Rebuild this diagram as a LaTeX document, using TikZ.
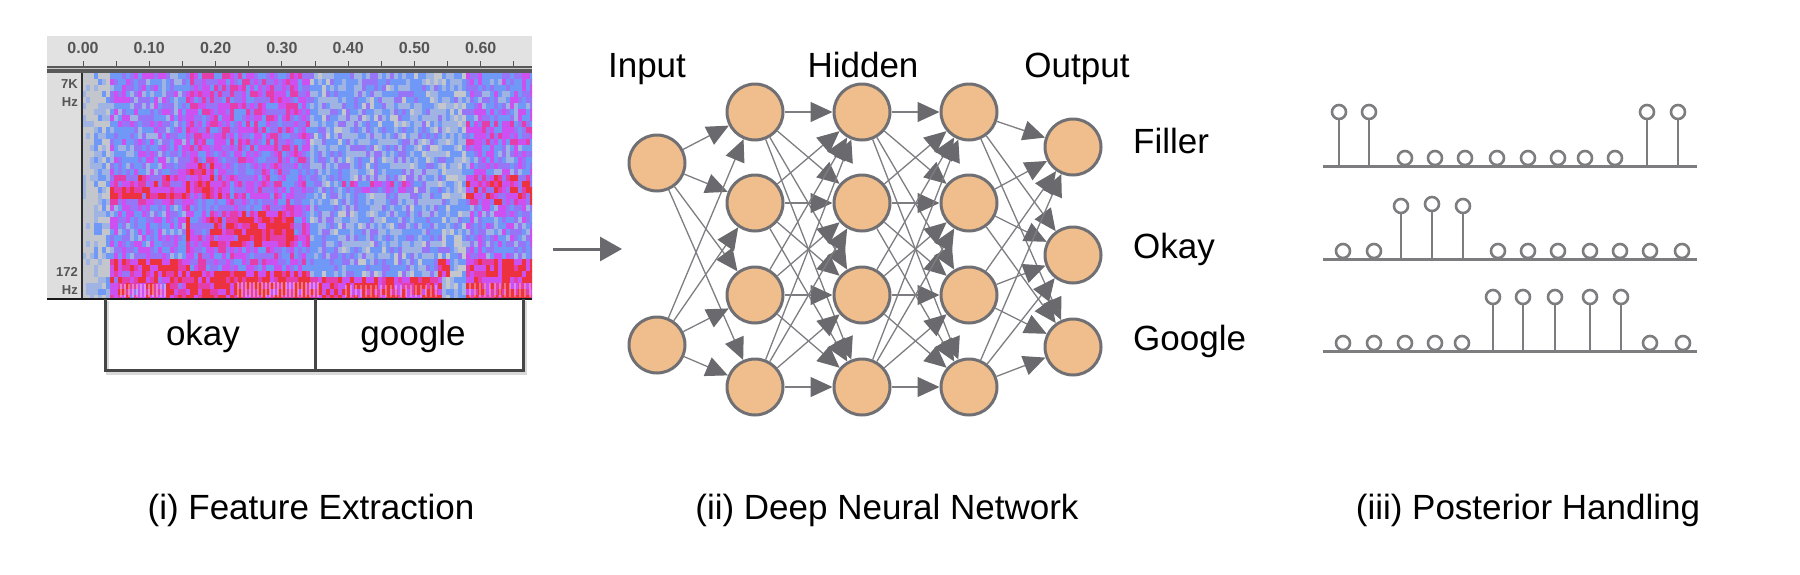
\documentclass[tikz,border=0pt]{standalone}
\usepackage{fontspec}
\setmainfont{Liberation Sans}
\usetikzlibrary{arrows.meta}
\pgfdeclarelayer{bg}
\pgfsetlayers{bg,main}
\definecolor{nodefill}{RGB}{240,190,140}
\definecolor{nodeline}{RGB}{112,112,116}
\definecolor{edgecol}{RGB}{125,125,130}
\definecolor{headcol}{RGB}{105,105,110}
\definecolor{lolli}{RGB}{125,125,128}
\definecolor{rulerbg}{RGB}{226,226,226}
\definecolor{rulertxt}{RGB}{85,85,85}
\definecolor{axisbg}{RGB}{222,222,222}
\definecolor{boxline}{RGB}{70,70,70}
\definecolor{s0}{RGB}{196,198,206}
\definecolor{s1}{RGB}{160,180,228}
\definecolor{s2}{RGB}{112,152,246}
\definecolor{s3}{RGB}{150,118,246}
\definecolor{s4}{RGB}{205,80,240}
\definecolor{s5}{RGB}{228,62,170}
\definecolor{s6}{RGB}{236,50,62}
\newcount\px \newcount\py \newcount\sb \newcount\sv
\def\specrect#1#2#3#4#5{\ifnum\px<#1 \else\ifnum\px<#2 \ifnum\py<#3 \else\ifnum\py<#4 \sb=#5 \fi\fi\fi\fi}
\def\specregions{%
  \sb=30
  \specrect{82}{93}{0}{999}{0}%
  \specrect{93}{110}{0}{999}{16}%
  \specrect{110}{183}{0}{999}{42}%
  \specrect{110}{183}{170}{203}{64}%
  \specrect{110}{140}{185}{198}{82}%
  \specrect{110}{183}{257}{270}{78}%
  \specrect{110}{183}{270}{299}{72}%
  \specrect{183}{307}{0}{999}{52}%
  \specrect{183}{307}{73}{160}{56}%
  \specrect{183}{213}{163}{190}{74}%
  \specrect{203}{230}{177}{197}{76}%
  \specrect{210}{293}{210}{243}{70}%
  \specrect{237}{287}{213}{240}{84}%
  \specrect{183}{307}{270}{299}{82}%
  \specrect{183}{187}{160}{299}{74}%
  \specrect{307}{440}{0}{999}{30}%
  \specrect{340}{410}{177}{193}{54}%
  \specrect{307}{440}{277}{299}{76}%
  \specrect{440}{463}{0}{999}{22}%
  \specrect{437}{447}{255}{275}{76}%
  \specrect{463}{533}{0}{999}{42}%
  \specrect{463}{533}{120}{140}{55}%
  \specrect{463}{533}{170}{203}{66}%
  \specrect{463}{533}{257}{299}{80}%
}
\def\speccolor{%
  \ifnum\sv<12 \def\cc{s0}\else
  \ifnum\sv<27 \def\cc{s1}\else
  \ifnum\sv<42 \def\cc{s2}\else
  \ifnum\sv<55 \def\cc{s3}\else
  \ifnum\sv<68 \def\cc{s4}\else
  \ifnum\sv<80 \def\cc{s5}\else
  \def\cc{s6}\fi\fi\fi\fi\fi\fi}
\tikzset{
  lbl/.style={font=\fontsize{35}{40}\selectfont, inner sep=0pt, text=black},
  rtick/.style={font=\fontsize{16}{16}\selectfont\bfseries, text=rulertxt, inner sep=0pt},
  axlbl/.style={font=\fontsize{13}{13}\selectfont\bfseries, text=rulertxt, inner sep=0pt, anchor=base east},
  nn/.style={circle, minimum size=56pt, inner sep=0pt, fill=nodefill, draw=nodeline, line width=3pt},
  edge/.style={draw=edgecol, line width=1.3pt, -{Triangle[length=22pt,width=20pt,color=headcol]}},
  bigarrow/.style={draw=headcol, line width=3pt, -{Triangle[length=22pt,width=24pt,color=headcol]}},
  stem/.style={draw=lolli, line width=2.6pt},
  bub/.style={draw=lolli, line width=2.6pt, fill=white},
  baseln/.style={draw=lolli, line width=3pt},
  boxln/.style={draw=boxline, line width=3pt},
}
\newcommand\lolT[3]{\draw[stem] (#1,#2) -- (#1,#3+7); \draw[bub] (#1,#3) circle[radius=7];}
\newcommand\lolL[2]{\draw[bub] (#1,#2) circle[radius=7];}
\begin{document}
\begin{tikzpicture}[x=1pt,y=-1pt]
\useasboundingbox (0,0) rectangle (1800,574);
% ---------------- spectrogram ----------------
\fill[rulerbg] (47,36) rectangle (532,66);
\foreach \k in {0,...,13} {\draw[rulertxt, line width=1pt] (83+33.15*\k,61) -- (83+33.15*\k,66);}
\foreach \k/\t in {0/0.00,1/0.10,2/0.20,3/0.30,4/0.40,5/0.50,6/0.60} {\node[rtick] (tk\k) at (83+66.3*\k,48) {\t};}
\fill[gray!70!black] (47,66) rectangle (532,73);
\draw[gray!40, line width=1pt] (47,68.5) -- (532,68.5);
\fill[axisbg] (47,73) rectangle (82,299);
\node[axlbl] (a7k) at (78,88) {7K};
\node[axlbl] (ahz1) at (78,106) {Hz};
\node[axlbl] (a172) at (78,276) {172};
\node[axlbl] (ahz2) at (78,294) {Hz};
\begin{scope}
\clip (82,73) rectangle (532,299);
\pgfmathsetseed{11}
\foreach \cx in {0,...,112} {\foreach \cy in {0,...,37} {
  \px=\numexpr82+4*\cx\relax \py=\numexpr73+6*\cy\relax
  \specregions
  \pgfmathrandominteger{\nz}{-21}{21}
  \sv=\numexpr\sb+\nz\relax
  \speccolor
  \fill[\cc] (\the\px,\the\py) rectangle ++(4.5,6.5);
}}
\foreach \x in {121,125,...,167} {\draw[white, opacity=0.35, line width=1.2pt] (\x,284) -- (\x,297);}
\foreach \x in {238,242,...,318} {\draw[white, opacity=0.35, line width=1.2pt] (\x,282) -- (\x,297);}
\foreach \x in {346,351,...,440} {\draw[white, opacity=0.3, line width=1.2pt] (\x,285) -- (\x,297);}
\foreach \x in {470,475,...,530} {\draw[white, opacity=0.3, line width=1.2pt] (\x,283) -- (\x,297);}
\end{scope}
\draw[gray!35!black, line width=1.5pt] (82,73) -- (82,299);
\draw[gray!20!black, line width=2pt] (47,299) -- (532,299);
% word boxes
\draw[gray!30, line width=3pt] (107,301) -- (107,373) -- (525,373) -- (525,301);
\draw[boxln] (105,299) -- (105,370) -- (523,370) -- (523,299);
\draw[boxln] (315,299) -- (315,370);
\node[lbl, anchor=base] (wokay) at (203,345) {okay};
\node[lbl, anchor=base] (wgoogle) at (413,345) {google};
% ---------------- arrow ----------------
\coordinate (ain) at (553,249);
\coordinate (aout) at (622,249);
\draw[bigarrow] (ain) -- (aout);
% ---------------- network ----------------
\node[lbl, anchor=base] (hin) at (647,77) {Input};
\node[lbl, anchor=base] (hhid) at (863,77) {Hidden};
\node[lbl, anchor=base] (hout) at (1077,77) {Output};
\foreach \y [count=\i] in {163,345} {\node[nn] (i\i) at (657,\y) {};}
\foreach \y [count=\i] in {112,203,295,387} {
  \node[nn] (a\i) at (755,\y) {};
  \node[nn] (b\i) at (862,\y) {};
  \node[nn] (c\i) at (969,\y) {};
}
\foreach \y [count=\i] in {147,255,347} {\node[nn] (o\i) at (1073,\y) {};}
\begin{pgfonlayer}{bg}
\foreach \s in {1,2} {\foreach \t in {1,...,4} {\draw[edge] (i\s) -- (a\t);}}
\foreach \s in {1,...,4} {\foreach \t in {1,...,4} {\draw[edge] (a\s) -- (b\t); \draw[edge] (b\s) -- (c\t);}}
\foreach \s in {1,...,4} {\foreach \t in {1,2,3} {\draw[edge] (c\s) -- (o\t);}}
\end{pgfonlayer}
\node[lbl, anchor=base west] (lfill) at (1133,153) {Filler};
\node[lbl, anchor=base west] (lokay) at (1133,258) {Okay};
\node[lbl, anchor=base west] (lgoog) at (1133,350) {Google};
% ---------------- posteriors ----------------
\draw[baseln] (1323,166) -- (1697,166);
\draw[baseln] (1323,259) -- (1697,259);
\draw[baseln] (1323,351) -- (1697,351);
% row 1
\lolT{1339}{166}{112}\lolT{1369}{166}{112}
\foreach \x in {1405,1435,1465,1497,1528,1558,1585,1615} {\lolL{\x}{158}}
\lolT{1647}{166}{112}\lolT{1678}{166}{112}
% row 2
\lolL{1343}{251}\lolL{1374}{251}
\lolT{1401}{259}{206}\lolT{1432}{259}{204}\lolT{1463}{259}{206}
\foreach \x in {1498,1528,1558,1590,1620,1650,1682} {\lolL{\x}{251}}
% row 3
\foreach \x in {1343,1374,1405,1435,1462} {\lolL{\x}{343}}
\foreach \x in {1493,1523,1555,1590,1621} {\lolT{\x}{351}{297}}
\lolL{1650}{343}\lolL{1683}{343}
% ---------------- captions ----------------
\node[lbl, anchor=base] (cap1) at (311,519) {(i) Feature Extraction};
\node[lbl, anchor=base] (cap2) at (887,519) {(ii) Deep Neural Network};
\node[lbl, anchor=base] (cap3) at (1528,519) {(iii) Posterior Handling};
\end{tikzpicture}
\end{document}
